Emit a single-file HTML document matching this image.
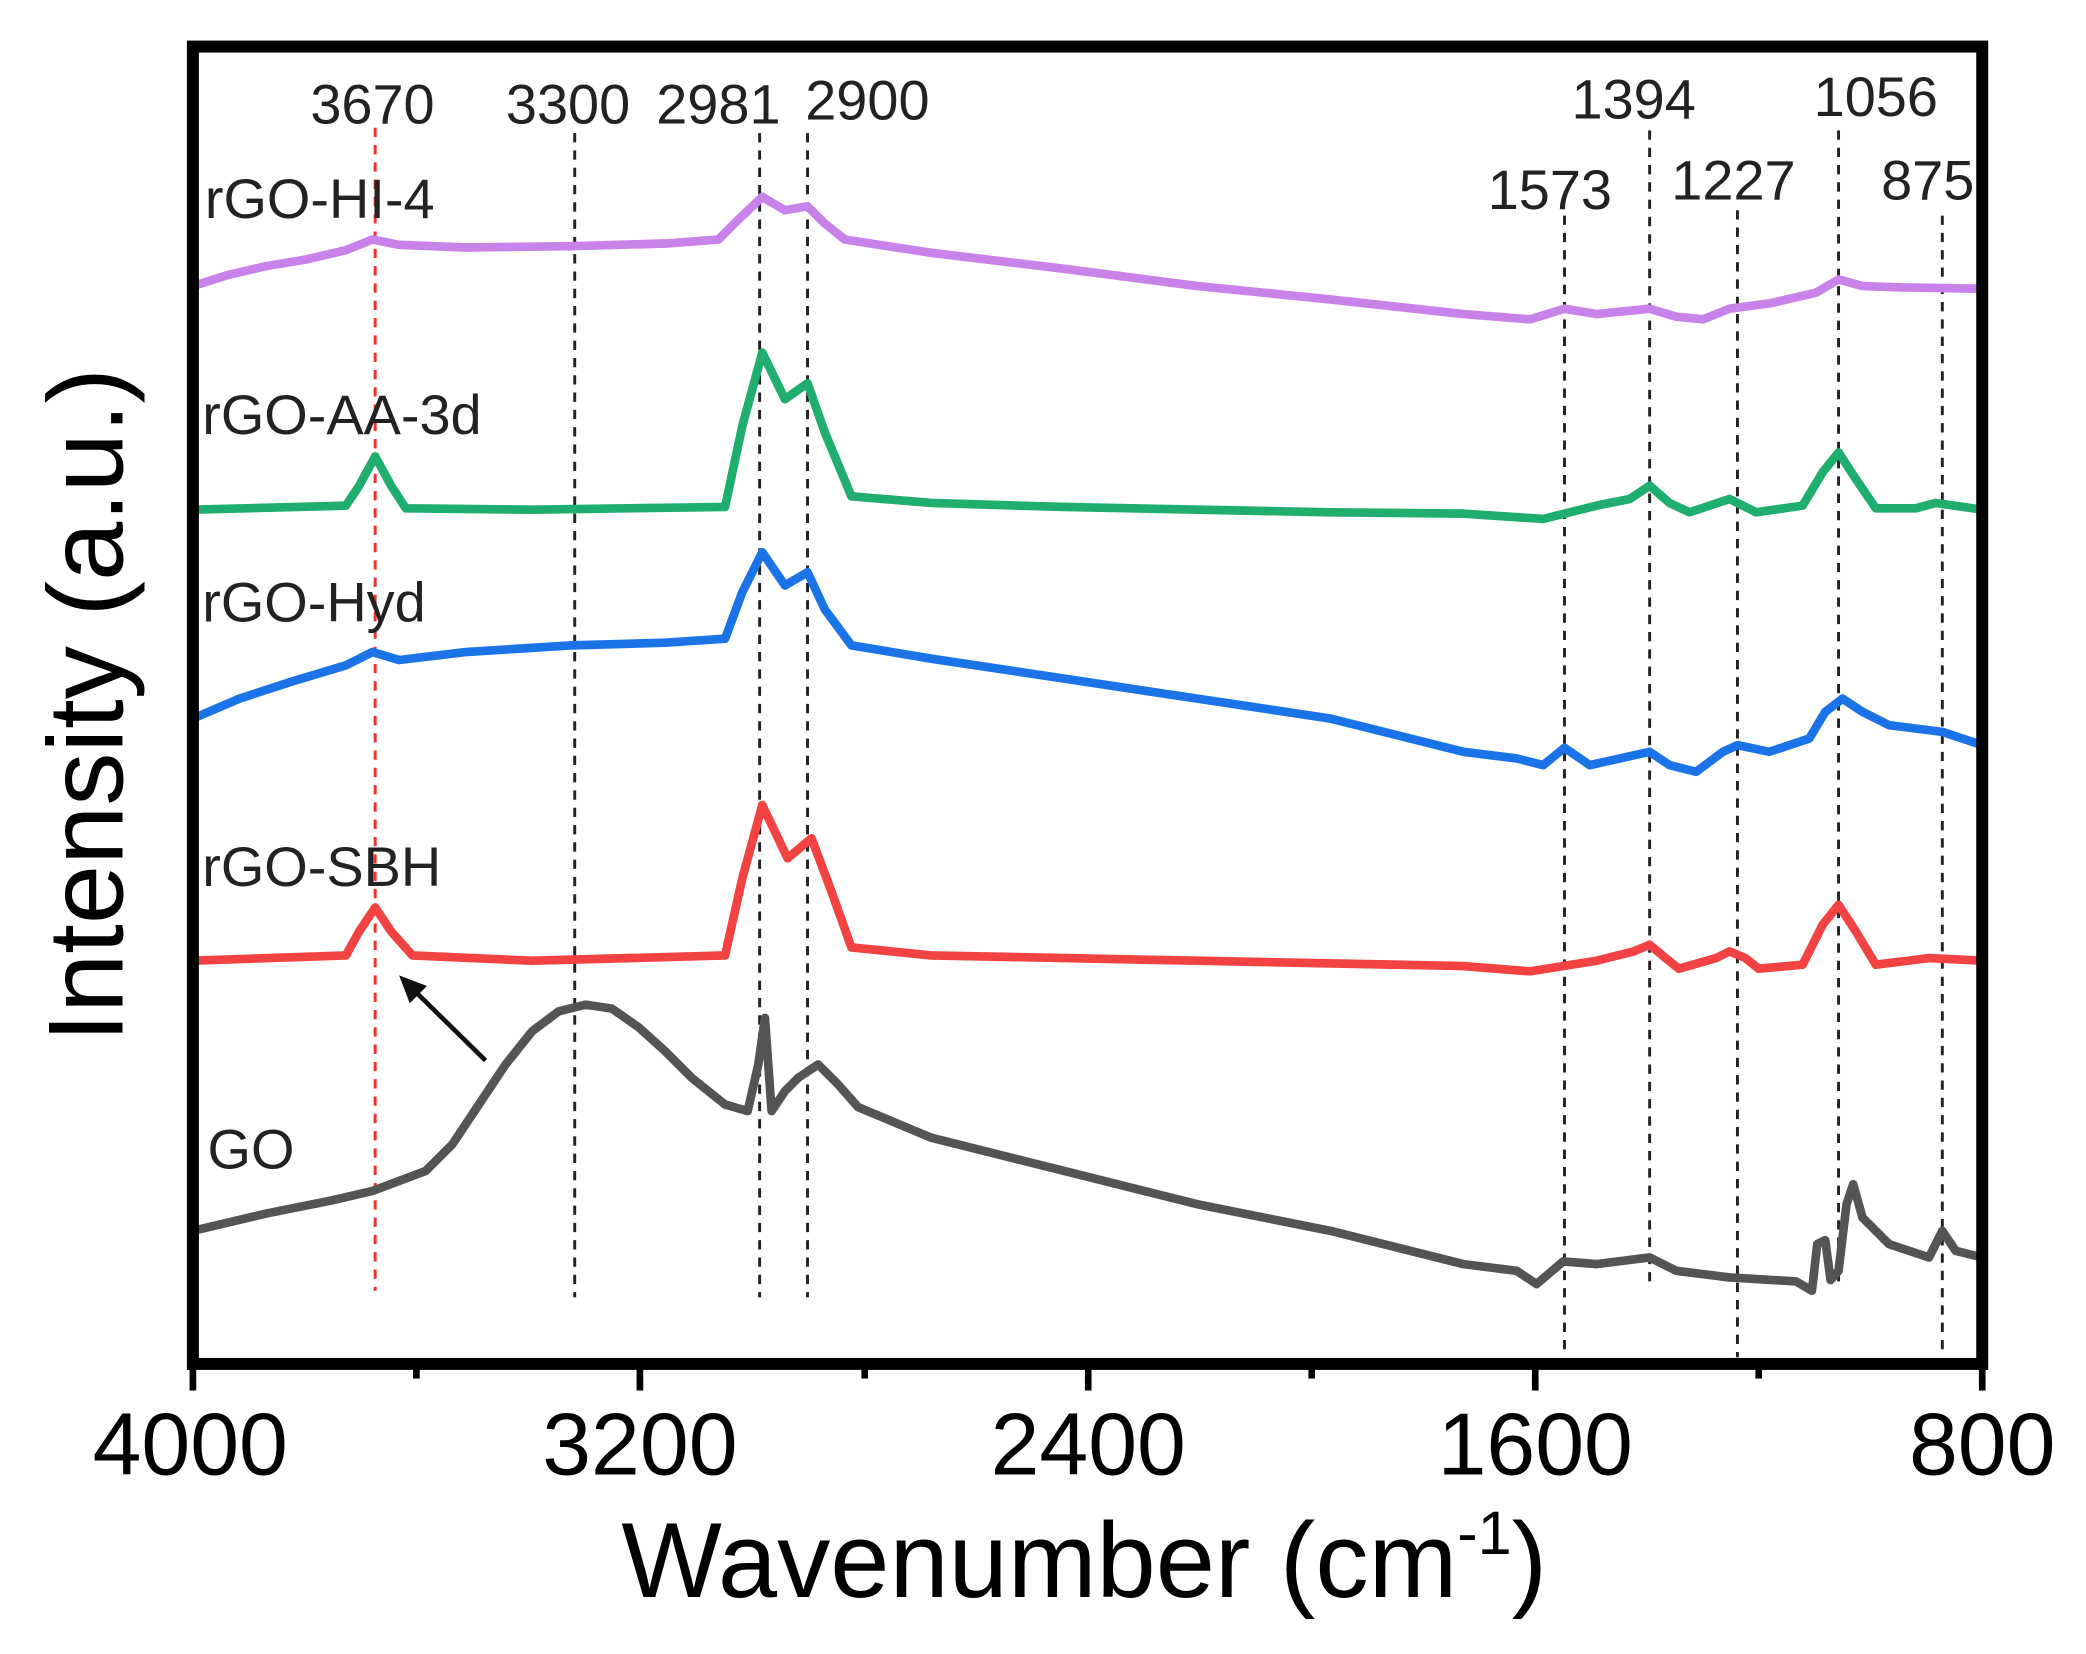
<!DOCTYPE html>
<html><head><meta charset="utf-8"><style>
html,body{margin:0;padding:0;background:#fff;}
svg{display:block;}
text{font-family:"Liberation Sans",Arial,sans-serif;}
</style></head><body>
<svg width="2086" height="1654" viewBox="0 0 1568 1243" preserveAspectRatio="none" xmlns="http://www.w3.org/2000/svg">
<rect width="1568" height="1243" fill="#fff"/>
<g stroke-width="2.2" stroke-dasharray="7,6" fill="none">
<line x1="282" y1="96" x2="282" y2="970" stroke="#f03030"/>
<g stroke="#222">
<line x1="432" y1="100" x2="432" y2="975"/>
<line x1="571" y1="100" x2="571" y2="975"/>
<line x1="607" y1="100" x2="607" y2="975"/>
<line x1="1176" y1="162" x2="1176" y2="1020"/>
<line x1="1240" y1="98" x2="1240" y2="965"/>
<line x1="1306" y1="158" x2="1306" y2="1020"/>
<line x1="1382" y1="98" x2="1382" y2="965"/>
<line x1="1460" y1="162" x2="1460" y2="1020"/>
</g></g>
<g fill="none" stroke-width="6.5" stroke-linejoin="round" stroke-linecap="round">
<polyline stroke="#c982ea" points="145,215 170,207 200,200 230,195 260,188 280,180 300,184 350,186 430,185 500,183 540,180 555,165 573,148 590,158 607,155 620,168 635,180 700,190 800,202 900,215 1000,225 1100,236 1150,240 1176,232 1200,236 1240,232 1260,238 1280,240 1300,232 1330,228 1365,220 1382,210 1400,215 1430,216 1490,217"/>
<polyline stroke="#1fae6e" points="145,383 260,380 270,365 282,343 294,365 305,382 400,383 545,381 558,320 573,265 590,300 607,288 620,325 640,373 700,378 800,381 1000,385 1100,386 1160,390 1200,380 1225,375 1240,365 1255,378 1270,385 1300,375 1320,385 1355,380 1370,355 1382,340 1395,360 1410,382 1440,382 1455,378 1490,383"/>
<polyline stroke="#1a74e8" points="145,540 180,525 220,512 260,500 280,490 300,496 350,490 430,485 500,483 545,480 558,445 573,415 590,440 607,430 620,458 640,485 700,495 800,510 900,525 1000,540 1100,565 1140,570 1160,575 1176,562 1195,575 1240,565 1255,575 1275,580 1295,565 1306,560 1330,565 1360,555 1372,535 1385,525 1400,535 1420,545 1460,550 1490,560"/>
<polyline stroke="#f24242" points="145,722 260,718 270,700 282,682 294,700 310,718 400,722 545,718 558,660 573,605 592,645 610,630 625,670 640,712 700,718 900,722 1100,726 1150,730 1200,722 1228,715 1240,710 1252,720 1262,728 1290,720 1300,715 1312,720 1322,728 1355,725 1370,695 1382,680 1395,700 1410,725 1450,720 1490,722"/>
<polyline stroke="#545454" points="145,925 200,912 250,902 280,895 320,880 340,860 360,830 380,800 400,775 420,760 440,755 460,758 480,772 500,790 520,810 545,830 562,835 570,800 575,765 580,835 590,820 600,810 615,800 630,815 645,832 700,855 800,880 900,905 1000,925 1100,950 1140,955 1155,965 1175,948 1200,950 1240,945 1260,955 1300,960 1350,963 1362,970 1366,935 1372,932 1376,962 1382,955 1388,905 1393,890 1400,915 1420,935 1450,945 1460,925 1470,940 1490,945"/>
</g>
<line x1="365" y1="797" x2="312" y2="745" stroke="#111" stroke-width="3.5"/>
<polygon points="300,733 321,741 308,754" fill="#111"/>
<rect x="145" y="35" width="1345" height="990" fill="none" stroke="#000" stroke-width="9"/>
<g stroke="#000" stroke-width="5">
<line x1="145" y1="1025" x2="145" y2="1045"/>
<line x1="481" y1="1025" x2="481" y2="1045"/>
<line x1="818" y1="1025" x2="818" y2="1045"/>
<line x1="1154" y1="1025" x2="1154" y2="1045"/>
<line x1="1490" y1="1025" x2="1490" y2="1045"/>
<line x1="313" y1="1025" x2="313" y2="1036"/>
<line x1="650" y1="1025" x2="650" y2="1036"/>
<line x1="986" y1="1025" x2="986" y2="1036"/>
<line x1="1322" y1="1025" x2="1322" y2="1036"/>
</g>
<g font-size="66" fill="#000" text-anchor="middle">
<text x="143" y="1108">4000</text>
<text x="481" y="1108">3200</text>
<text x="818" y="1108">2400</text>
<text x="1154" y="1108">1600</text>
<text x="1490" y="1108">800</text>
</g>
<text x="815" y="1200" font-size="80" text-anchor="middle" fill="#000">Wavenumber (cm<tspan dy="-32" font-size="46">-1</tspan><tspan dy="32">)</tspan></text>
<text transform="translate(92,530) rotate(-90)" font-size="80" text-anchor="middle" fill="#000">Intensity (a.u.)</text>
<g font-size="42" fill="#222" text-anchor="middle">
<text x="280" y="93">3670</text>
<text x="427" y="93">3300</text>
<text x="540" y="93">2981</text>
<text x="652" y="90">2900</text>
<text x="1228" y="89">1394</text>
<text x="1410" y="87">1056</text>
<text x="1165" y="157">1573</text>
<text x="1303" y="150">1227</text>
<text x="1449" y="150">875</text>
</g>
<g font-size="42" fill="#222">
<text x="154" y="164">rGO-HI-4</text>
<text x="152" y="326">rGO-AA-3d</text>
<text x="152" y="467">rGO-Hyd</text>
<text x="152" y="666">rGO-SBH</text>
<text x="156" y="878">GO</text>
</g>
</svg>
</body></html>
